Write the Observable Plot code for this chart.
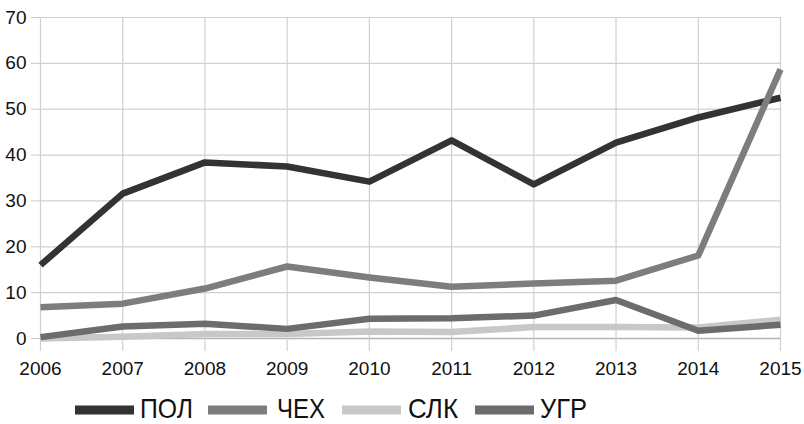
<!DOCTYPE html>
<html><head><meta charset="utf-8">
<script src="https://cdn.jsdelivr.net/npm/d3@7"></script>
<script src="https://cdn.jsdelivr.net/npm/@observablehq/plot@0.6"></script>
<style>
html,body{margin:0;padding:0;background:#fff;overflow:hidden;}
#chart{width:804px;height:424px;position:relative;}
#chart svg{display:block;}
</style></head>
<body><div id="chart"></div>
<script>
const years = [2006,2007,2008,2009,2010,2011,2012,2013,2014,2015];
const seriesNames = ["ПОЛ","ЧЕХ","СЛК","УГР"];
const colors = ["#333333","#7d7d7d","#c8c8c8","#6c6c6c"];
const pol = [16,31.6,38.4,37.5,34.2,43.2,33.6,42.7,48.2,52.5];
const cze = [6.8,7.6,10.9,15.7,13.3,11.3,12.0,12.6,18.1,58.7];
const svk = [0,0.4,1.0,1.0,1.5,1.4,2.5,2.5,2.4,4.1];
const hun = [0.3,2.6,3.2,2.1,4.3,4.4,5.0,8.4,1.7,3.0];
const yTicks = [0,10,20,30,40,50,60,70];

const vals = [pol,cze,svk,hun];
const data = [];
seriesNames.forEach((s,i)=>years.forEach((y,j)=>data.push({series:s,year:y,value:vals[i][j]})));

const chart = Plot.plot({
  width:804, height:385,
  marginLeft:40, marginRight:24, marginTop:17, marginBottom:47,
  style:{fontFamily:"'Liberation Sans',Arial,sans-serif",fontSize:"19px",color:"#111",background:"#fff"},
  x:{domain:[2006,2015],ticks:years,tickFormat:"d",label:null},
  y:{domain:[0,70],ticks:yTicks,label:null},
  color:{domain:seriesNames,range:colors},
  marks:[
    Plot.gridY(yTicks,{stroke:"#d0d0d0",strokeOpacity:1,strokeWidth:1.2}),
    Plot.gridX(years,{stroke:"#d0d0d0",strokeOpacity:1,strokeWidth:1.2}),
    Plot.ruleY([0],{stroke:"#b4b4b4",strokeWidth:1.5}),
    Plot.axisY(yTicks,{tickSize:9,tickPadding:5,stroke:"#c8c8c8",fontSize:19,fill:"#111",label:null}),
    Plot.axisX(years,{tickSize:13,tickPadding:10,stroke:"#d0d0d0",strokeWidth:1.2,tickFormat:"d",fontSize:19,fill:"#111",label:null}),
    Plot.line(data,{x:"year",y:"value",z:"series",stroke:"series",strokeWidth:6.5,strokeLinecap:"butt",strokeLinejoin:"round"})
  ]
});
document.getElementById("chart").appendChild(chart);

// legend below the chart
const ns="http://www.w3.org/2000/svg";
const lg=document.createElementNS(ns,"svg");
lg.setAttribute("width",804);lg.setAttribute("height",39);
const swX=[75,208,342,475], txtX=[140,277,408,540], txtW=[53,48,50,47];
seriesNames.forEach((s,i)=>{
  const r=document.createElementNS(ns,"rect");
  r.setAttribute("x",swX[i]);r.setAttribute("y",20.5);r.setAttribute("width",59);r.setAttribute("height",9);
  r.setAttribute("fill",colors[i]);lg.appendChild(r);
  const t=document.createElementNS(ns,"text");
  t.setAttribute("x",txtX[i]);t.setAttribute("y",33);
  t.setAttribute("font-family","'Liberation Sans',Arial,sans-serif");t.setAttribute("font-size",28);
  t.setAttribute("fill","#111");t.setAttribute("textLength",txtW[i]);t.setAttribute("lengthAdjust","spacingAndGlyphs");
  t.textContent=s;lg.appendChild(t);
});
document.getElementById("chart").appendChild(lg);
</script></body></html>
